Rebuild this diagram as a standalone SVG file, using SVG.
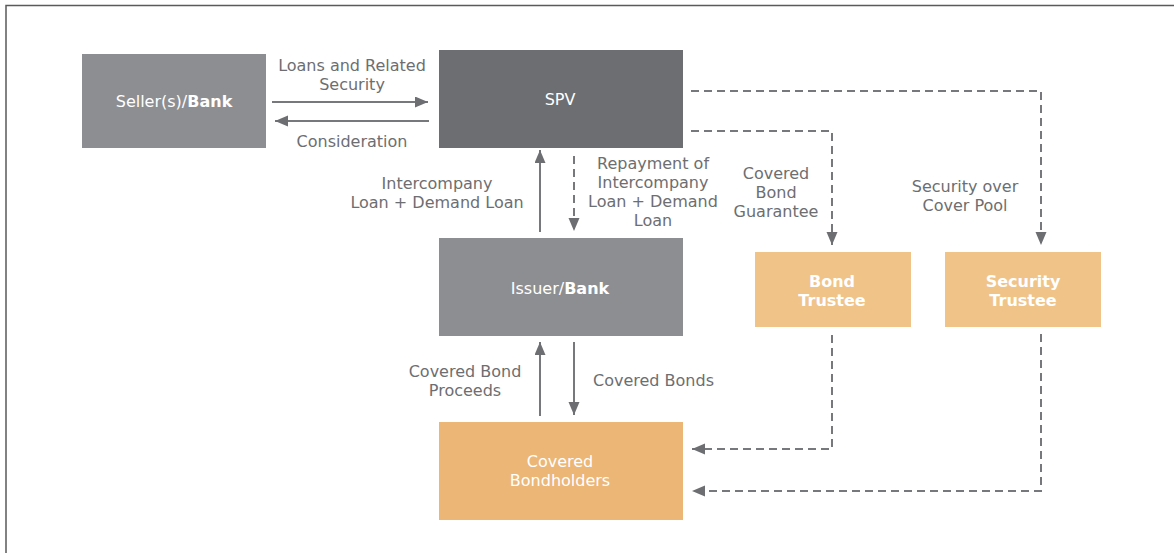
<svg xmlns="http://www.w3.org/2000/svg" width="1174" height="553" viewBox="0 0 1174 553">
<defs>
<marker id="ah" markerUnits="userSpaceOnUse" markerWidth="14" markerHeight="12" refX="13" refY="5.5" orient="auto">
<path d="M0,0 L13,5.5 L0,11 z" fill="#6d6e71"/>
</marker>
<style>
text{font-family:"DejaVu Sans","Verdana",sans-serif;font-size:16px;text-anchor:middle}
.lbl{fill:#6d6e71}
.nt{fill:#ffffff}
.b{font-weight:bold}
.solid{stroke:#77787b;stroke-width:2;fill:none}
.dash{stroke:#77787b;stroke-width:2;fill:none;stroke-dasharray:8 5}
</style>
</defs>
<rect x="0" y="0" width="1174" height="553" fill="#ffffff"/>
<path d="M6,553 V5.5 H1174" fill="none" stroke="#5a5a5a" stroke-width="1.5"/>

<g id="seller">
<rect x="82" y="54" width="184" height="94" fill="#8d8e91"/>
<text x="174" y="107" class="nt">Seller(s)/<tspan class="b">Bank</tspan></text>
</g>
<g id="spv">
<rect x="439" y="50" width="244" height="98" fill="#6d6e71"/>
<text x="560" y="105" class="nt">SPV</text>
</g>
<g id="issuer">
<rect x="439" y="238" width="244" height="98" fill="#8d8e91"/>
<text x="560" y="294" class="nt">Issuer/<tspan class="b">Bank</tspan></text>
</g>
<g id="bondholders">
<rect x="439" y="422" width="244" height="98" fill="#ecb677"/>
<text x="560" y="467" class="nt">Covered</text>
<text x="560" y="486" class="nt">Bondholders</text>
</g>
<g id="bondtrustee">
<rect x="755" y="252" width="156" height="75" fill="#f0c389"/>
<text x="832" y="287" class="nt b">Bond</text>
<text x="832" y="306" class="nt b">Trustee</text>
</g>
<g id="sectrustee">
<rect x="945" y="252" width="156" height="75" fill="#f0c389"/>
<text x="1023" y="287" class="nt b">Security</text>
<text x="1023" y="306" class="nt b">Trustee</text>
</g>

<g id="connectors">
<path class="solid" d="M272,102 H428" marker-end="url(#ah)"/>
<path class="solid" d="M429,121 H275" marker-end="url(#ah)"/>
<path class="solid" d="M540,232 V150" marker-end="url(#ah)"/>
<path class="dash" d="M574,156 V231" marker-end="url(#ah)"/>
<path class="solid" d="M540,416 V342" marker-end="url(#ah)"/>
<path class="solid" d="M574,342 V415" marker-end="url(#ah)"/>
<path class="dash" d="M691,131 H832 V245" marker-end="url(#ah)"/>
<path class="dash" d="M691,91 H1041 V245" marker-end="url(#ah)"/>
<path class="dash" d="M832,335 V449 H692" marker-end="url(#ah)"/>
<path class="dash" d="M1041,334 V491 H692" marker-end="url(#ah)"/>
</g>

<g id="labels">
<text x="352" y="71" class="lbl">Loans and Related</text>
<text x="352" y="90" class="lbl">Security</text>
<text x="352" y="147" class="lbl">Consideration</text>
<text x="437" y="189" class="lbl">Intercompany</text>
<text x="437" y="208" class="lbl">Loan + Demand Loan</text>
<text x="653" y="169" class="lbl">Repayment of</text>
<text x="653" y="188" class="lbl">Intercompany</text>
<text x="653" y="207" class="lbl">Loan + Demand</text>
<text x="653" y="226" class="lbl">Loan</text>
<text x="776" y="179" class="lbl">Covered</text>
<text x="776" y="198" class="lbl">Bond</text>
<text x="776" y="217" class="lbl">Guarantee</text>
<text x="965" y="192" class="lbl">Security over</text>
<text x="965" y="211" class="lbl">Cover Pool</text>
<text x="465" y="377" class="lbl">Covered Bond</text>
<text x="465" y="396" class="lbl">Proceeds</text>
<text x="593" y="386" class="lbl" style="text-anchor:start">Covered Bonds</text>
</g>
</svg>
